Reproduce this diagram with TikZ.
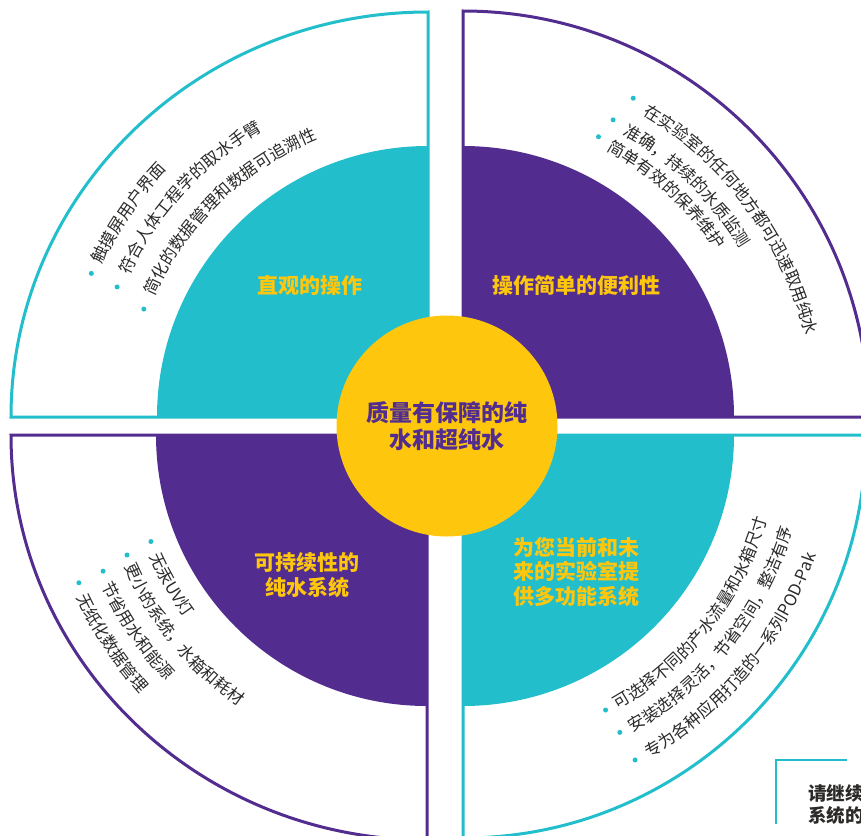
\documentclass[tikz,border=0pt]{standalone}
\usepackage{fontspec}
\setmainfont{Noto Sans CJK SC}
\usetikzlibrary{decorations.text}
\definecolor{wpTeal}{HTML}{22BECB}
\definecolor{wpPurple}{HTML}{522D8F}
\definecolor{wpGold}{HTML}{FEC70D}
\definecolor{wpInk}{HTML}{2B2A29}
\tikzset{
  rimTeal/.style={draw=wpTeal, line width=3pt},
  rimPurple/.style={draw=wpPurple, line width=3pt},
  quadtitle/.style={text=wpGold, font=\bfseries\fontsize{21}{25}\selectfont,
              align=center, inner sep=0pt},
  core/.style={circle, fill=wpGold, minimum size=221pt, inner sep=0pt, text=wpPurple,
              font=\bfseries\fontsize{23}{27}\selectfont, align=center},
  bulletdot/.style={circle, fill=wpTeal, minimum size=5pt, inner sep=0pt},
  boxline/.style={draw=wpTeal, line width=2.5pt},
  note/.style={text=wpInk, font=\bfseries\fontsize{18.5}{22}\selectfont,
              align=left, inner sep=0pt},
}
\newcommand{\arcfont}{\fontsize{16.6}{16.6}\selectfont\color{wpInk}}
% one line of text set along an arc round a quadrant corner
\newcommand{\arcline}[5]{%
  \path[decorate, decoration={text along path, text={|\arcfont|#5}}]
    (#1) ++(#3:#2) arc[start angle=#3, end angle=#4, radius=#2];}

\begin{document}
\begin{tikzpicture}[x=1pt,y=1pt]
  \useasboundingbox (0,0) rectangle (861,-835);
  \clip (0,0) rectangle (861,-835);
  \coordinate (cTL) at (428,-417);
  \coordinate (cTR) at (463,-417);
  \coordinate (cBL) at (427,-435);
  \coordinate (cBR) at (463,-435);
  % outer rims
  \draw[rimTeal] (cTL) -- ++(-417,0) arc[start angle=180, end angle=90, x radius=417, y radius=405] -- cycle;
  \draw[rimPurple] (cTR) -- ++(0,406) arc[start angle=90, end angle=0, radius=406] -- cycle;
  \draw[rimPurple] (cBL) -- ++(-416,0) arc[start angle=180, end angle=270, x radius=416, y radius=405] -- cycle;
  \draw[rimTeal] (cBR) -- ++(403,0) arc[start angle=0, end angle=-90, radius=403] -- cycle;
  % inner quarters
  \fill[wpTeal] (cTL) -- ++(-271,0) arc[start angle=180, end angle=90, radius=271] -- cycle;
  \fill[wpPurple] (cTR) -- ++(0,271) arc[start angle=90, end angle=0, radius=271] -- cycle;
  \fill[wpPurple] (cBL) -- ++(-271,0) arc[start angle=180, end angle=270, radius=271] -- cycle;
  \fill[wpTeal] (cBR) -- ++(271,0) arc[start angle=0, end angle=-90, radius=271] -- cycle;
  \node[core] (hub) at (447,-426) {质量有保障的纯\\水和超纯水};
  % titles
  \node[quadtitle] (tTL) at (309.5,-285) {直观的操作};
  \node[quadtitle] (tTR) at (576,-285) {操作简单的便利性};
  \node[quadtitle] (tBL) at (307,-575.5) {可持续性的\\纯水系统};
  \node[quadtitle, align=left, anchor=west, font=\bfseries\fontsize{21}{24.5}\selectfont] (tBR) at (513,-572) {为您当前和未\\来的实验室提\\供多功能系统};
  % bullets
  \foreach \r/\a [count=\i] in {366/156.9, 337/157.3, 304/159.2}
    \node[bulletdot] (bTL\i) at ([shift={(\a:\r)}]cTL) {};
  \foreach \r/\a [count=\i] in {361.4/61.9, 332.9/63.2, 311.3/64.2}
    \node[bulletdot] (bTR\i) at ([shift={(\a:\r)}]cTR) {};
  \foreach \r/\a [count=\i] in {295.9/201.1, 323.1/201.8, 351.4/202.8, 378.2/203.0}
    \node[bulletdot] (bBL\i) at ([shift={(\a:\r)}]cBL) {};
  \foreach \r/\a [count=\i] in {309.8/-62.6, 336.2/-62.2, 367.7/-62.1}
    \node[bulletdot] (bBR\i) at ([shift={(\a:\r)}]cBR) {};
  % arc texts
  \arcline{cTL}{359.7}{155.0}{80}{触摸屏用户界面}
  \arcline{cTL}{330.7}{154.6}{80}{符合人体工程学的取水手臂}
  \arcline{cTL}{298.7}{156.2}{80}{简化的数据管理和数据可追溯性}
  \arcline{cTR}{351.7}{59.3}{-10}{在实验室的任何地方都可迅速取用纯水}
  \arcline{cTR}{324.7}{60.5}{-10}{准确，持续的水质监测}
  \arcline{cTR}{302.7}{61.7}{-10}{简单有效的保养维护}
  \arcline{cBL}{303.3}{203.7}{275}{无汞UV灯}
  \arcline{cBL}{330.3}{203.5}{275}{更小的系统，水箱和耗材}
  \arcline{cBL}{358.3}{204.8}{275}{节省用水和能源}
  \arcline{cBL}{386.3}{204.8}{275}{无纸化数据管理}
  \arcline{cBR}{315.3}{-60.6}{10}{可选择不同的产水流量和水箱尺寸}
  \arcline{cBR}{342.9}{-60.3}{10}{安装选择灵活，节省空间，整洁有序}
  \arcline{cBR}{372.9}{-60.0}{10}{专为各种应用打造的一系列POD-Pak}
  % corner note
  \coordinate (nA) at (776,-824);
  \coordinate (nB) at (776,-760);
  \coordinate (nC) at (847,-760);
  \draw[boxline] (nA) -- (nB) -- (nC);
  \node[note, anchor=west] (more) at (808,-804) {请继续\\系统的};
\end{tikzpicture}
\end{document}
